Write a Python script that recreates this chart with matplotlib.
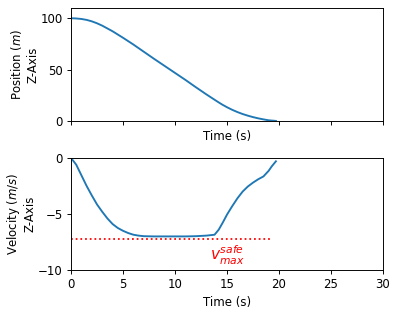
import numpy as np
import matplotlib.pyplot as plt

# trajectory
t_pos = [0, 0.5, 1, 1.5, 2, 2.5, 3, 4, 5, 6, 7, 8, 9, 10, 11, 12, 13, 14,
         14.5, 15, 15.5, 16, 16.5, 17, 17.5, 18, 18.5, 19, 19.7]
z_pos = [100, 99.8, 99.3, 98.4, 97.0, 95.1, 92.8, 87.3, 81.0, 74.4, 67.4,
         60.4, 53.6, 46.8, 40.0, 32.9, 26.0, 19.4, 16.2, 13.4, 10.9, 8.7,
         6.8, 5.2, 3.8, 2.6, 1.6, 0.7, 0.1]

t_vel = [0, 0.5, 1, 1.5, 2, 2.5, 3, 3.5, 4, 4.5, 5, 5.5, 6, 6.5, 7, 8, 9, 10, 11,
         12, 13, 13.8, 14.2, 14.6, 15, 15.5, 16, 16.5, 17, 17.5, 18, 18.5, 19,
         19.3, 19.7]
z_vel = [0, -0.6, -1.55, -2.5, -3.35, -4.15, -4.8, -5.4, -5.9, -6.25, -6.5,
         -6.7, -6.85, -6.93, -6.98, -7.0, -7.0, -7.0, -7.0, -6.98, -6.93, -6.85,
         -6.4, -5.75, -5.05, -4.3, -3.6, -3.0, -2.55, -2.2, -1.9, -1.65, -1.15,
         -0.75, -0.3]

v_safe = -7.2

dpi = 85
fig = plt.figure(figsize=(399 / dpi, 314 / dpi), dpi=dpi)
ax1 = fig.add_axes([0.178, 0.6146, 0.782, 0.36])
ax2 = fig.add_axes([0.178, 0.14, 0.782, 0.357], sharex=ax1)

ax1.plot(t_pos, z_pos, lw=1.6)
ax1.set_ylim(0, 110)
ax1.set_yticks([0, 50, 100])
ax1.set_xlim(0, 30)
ax1.set_xlabel('Time (s)')
ax1.set_ylabel('Position ($m$)\nZ-Axis', labelpad=1)
ax1.tick_params(labelbottom=False)

ax2.plot(t_vel, z_vel, lw=1.6)
ax2.plot(t_vel[:-1], [v_safe] * (len(t_vel) - 1), 'r:')
ax2.text(15.05, -8.7, r'$v_{max}^{safe}$', color='red', fontsize=13,
         ha='center', va='center')
ax2.set_ylim(-10, 0)
ax2.set_yticks([-10, -5, 0])
ax2.set_xticks([0, 5, 10, 15, 20, 25, 30])
ax2.set_xlabel('Time (s)')
ax2.set_ylabel('Velocity ($m/s$)\nZ-Axis', labelpad=1)

fig.savefig('out.png', dpi=dpi)
